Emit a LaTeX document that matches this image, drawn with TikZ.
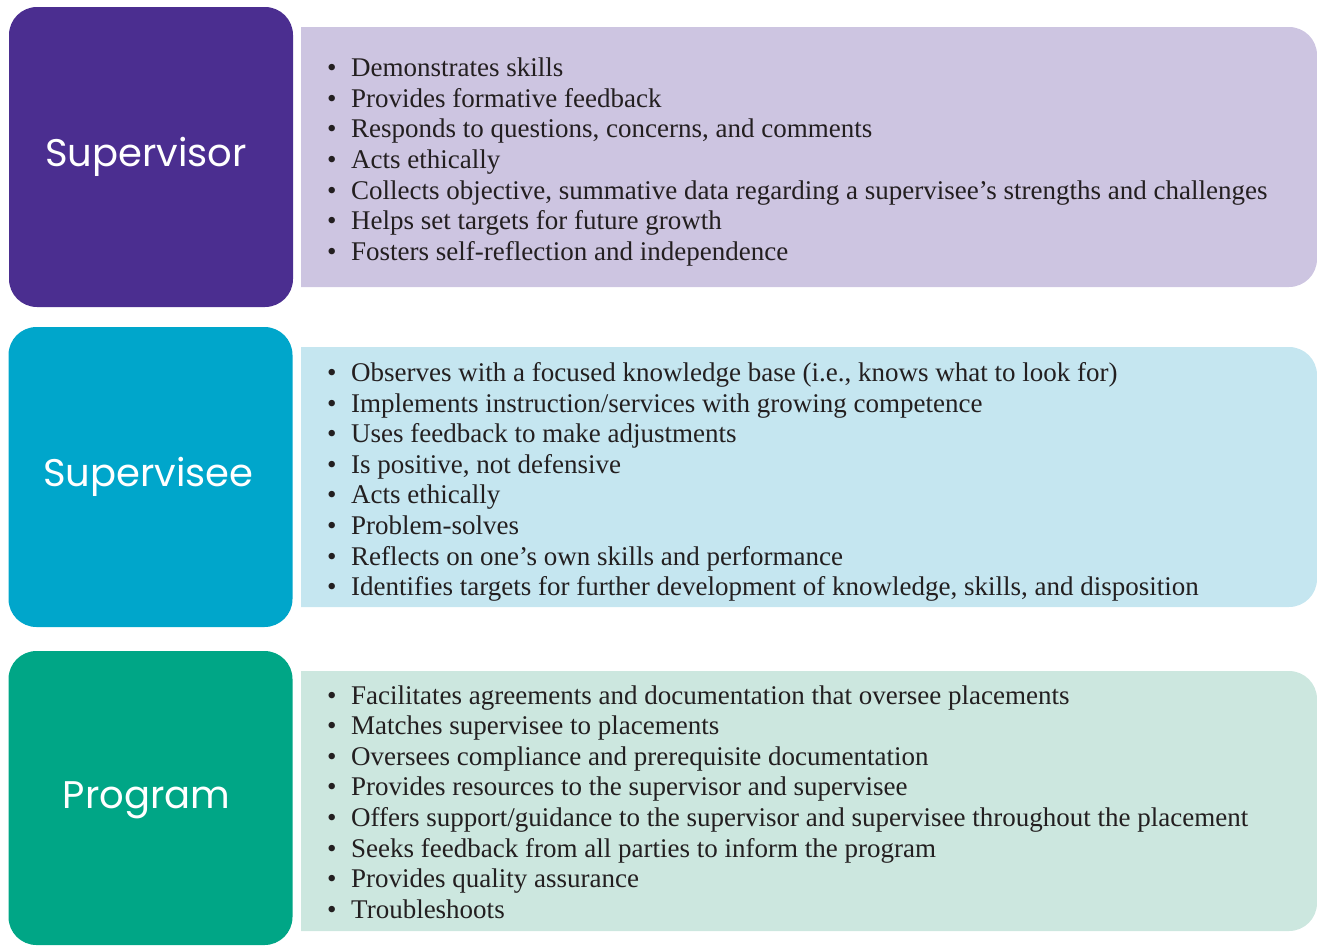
\documentclass[tikz,border=0pt]{standalone}
\usepackage{fontspec}
\setmainfont{Liberation Serif}
\newfontfamily\titlefont{Poppins}
\definecolor{dpurple}{HTML}{4B2E90}
\definecolor{lpurple}{HTML}{CDC5E1}
\definecolor{dcyan}{HTML}{00A6CB}
\definecolor{lcyan}{HTML}{C5E6F0}
\definecolor{dgreen}{HTML}{00A686}
\definecolor{lgreen}{HTML}{CCE7DF}
\definecolor{txt}{HTML}{231F20}
\newcommand{\bl}{\makebox[25pt][l]{\hspace{1pt}\textbullet}}
\tikzset{
  rolebox/.style={rounded corners=28pt, minimum width=284pt, inner sep=0pt,
    text=white},
  roletext/.style={text=white, inner sep=0pt, font=\titlefont\fontsize{38.5}{46}\selectfont},
  listtext/.style={anchor=west, inner sep=0pt, align=left, text=txt,
    font=\fontsize{27}{30.6}\selectfont}
}
\newcommand{\lightbox}[3]{%
  \fill[#1] (301,-#2) -- (1289,-#2) arc[start angle=90,end angle=0,radius=28]
    -- (1317,-#3+28) arc[start angle=0,end angle=-90,radius=28] -- (301,-#3) -- cycle;}
\begin{document}
\begin{tikzpicture}[x=1pt,y=1pt]
\useasboundingbox (0,0) rectangle (1317,-946);
% light panels
\lightbox{lpurple}{27}{287}
\lightbox{lcyan}{347}{607}
\lightbox{lgreen}{671}{931}
% role boxes
\node[rolebox, fill=dpurple, minimum height=300pt] (sup) at (151,-157) {};
\node[rolebox, fill=dcyan, minimum height=300pt] (see) at (150.5,-477) {};
\node[rolebox, fill=dgreen, minimum height=294pt] (prog) at (150.5,-798) {};
\node[roletext] (supt) at (146,-157) {Supervisor};
\node[roletext] (seet) at (148.5,-477) {Supervisee};
\node[roletext] (progt) at (146.5,-800) {Program};
% lists
\node[listtext] (supl) at (326,-162) {%
\bl Demonstrates skills\\
\bl Provides formative feedback\\
\bl Responds to questions, concerns, and comments\\
\bl Acts ethically\\
\bl Collects objective, summative data regarding a supervisee’s strengths and challenges\\
\bl Helps set targets for future growth\\
\bl Fosters self-reflection and independence};
\node[listtext] (seel) at (326,-482) {%
\bl Observes with a focused knowledge base (i.e., knows what to look for)\\
\bl Implements instruction/services with growing competence\\
\bl Uses feedback to make adjustments\\
\bl Is positive, not defensive\\
\bl Acts ethically\\
\bl Problem-solves\\
\bl Reflects on one’s own skills and performance\\
\bl Identifies targets for further development of knowledge, skills, and disposition};
\node[listtext] (progl) at (326,-802) {%
\bl Facilitates agreements and documentation that oversee placements\\
\bl Matches supervisee to placements\\
\bl Oversees compliance and prerequisite documentation\\
\bl Provides resources to the supervisor and supervisee\\
\bl Offers support/guidance to the supervisor and supervisee throughout the placement\\
\bl Seeks feedback from all parties to inform the program\\
\bl Provides quality assurance\\
\bl Troubleshoots};
\end{tikzpicture}
\end{document}
